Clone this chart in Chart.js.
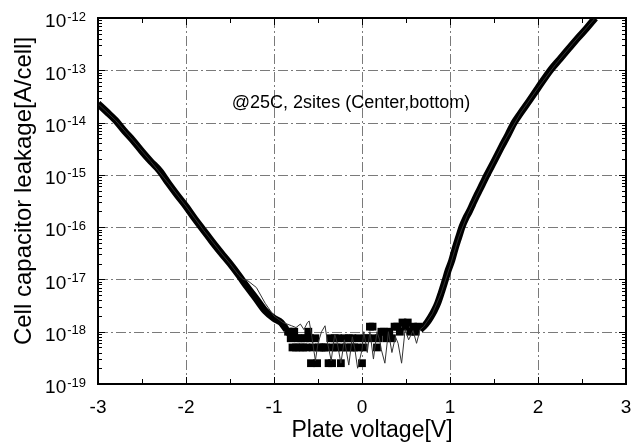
<!DOCTYPE html>
<html>
<head>
<meta charset="utf-8">
<script src="https://cdn.jsdelivr.net/npm/chart.js@4/dist/chart.umd.min.js"></script>
<style>
  html, body { margin: 0; background: #fff; }
</style>
</head>
<body>
<canvas id="leakChart" width="640" height="443"></canvas>
<script>
// site 1 (thick squares) - left branch, noisy floor, right branch
const leftV = [-3.0, -2.9, -2.8, -2.7, -2.6, -2.5, -2.4, -2.3, -2.2, -2.1, -2.0, -1.9, -1.8, -1.7, -1.6, -1.5, -1.4, -1.3, -1.2, -1.1, -1.0, -0.92, -0.86];
const leftI = [2.3e-14, 1.6e-14, 1.1e-14, 6.9e-15, 4.5e-15, 2.8e-15, 1.8e-15, 1.2e-15, 6.9e-16, 4.1e-16, 2.5e-16, 1.45e-16, 8.7e-17, 5.2e-17, 3.2e-17, 2.0e-17, 1.2e-17, 7.0e-18, 4.2e-18, 2.5e-18, 1.8e-18, 1.5e-18, 1.1e-18];

const midV = [-0.84, -0.82, -0.81, -0.79, -0.77, -0.75, -0.73, -0.71, -0.69, -0.67, -0.65, -0.63, -0.61, -0.59, -0.58, -0.56, -0.53, -0.51, -0.49, -0.46, -0.43, -0.41, -0.38, -0.36, -0.34, -0.33, -0.31, -0.29, -0.27, -0.24, -0.23, -0.20, -0.18, -0.15, -0.13, -0.11, -0.09, -0.06, -0.04, 0.00, 0.02, 0.04, 0.07, 0.09, 0.12, 0.15, 0.17, 0.19, 0.22, 0.25, 0.28, 0.31, 0.34, 0.37, 0.40, 0.43, 0.46, 0.49, 0.52, 0.55, 0.58, 0.61, 0.64];
const midI = [1.0e-18, 1.0e-18, 7.5e-19, 5e-19, 1.0e-18, 5e-19, 7.5e-19, 5e-19, 7.5e-19, 5e-19, 7.5e-19, 5e-19, 1.0e-18, 7.5e-19, 2.5e-19, 5e-19, 7.5e-19, 2.5e-19, 5e-19, 5e-19, 5e-19, 5e-19, 2.5e-19, 7.5e-19, 2.5e-19, 5e-19, 7.5e-19, 5e-19, 7.5e-19, 2.5e-19, 5e-19, 7.5e-19, 5e-19, 7.5e-19, 5e-19, 7.5e-19, 5e-19, 5e-19, 7.5e-19, 2.5e-19, 5e-19, 7.5e-19, 7.5e-19, 1.25e-18, 1.25e-18, 7.5e-19, 5e-19, 7.5e-19, 1.0e-18, 1.0e-18, 7.5e-19, 1.0e-18, 7.5e-19, 1.25e-18, 1.25e-18, 1.0e-18, 1.5e-18, 1.25e-18, 1.5e-18, 1.0e-18, 1.25e-18, 1.0e-18, 1.25e-18];

const rightV = [0.66, 0.70, 0.74, 0.78, 0.82, 0.86, 0.90, 0.94, 0.98, 1.02, 1.06, 1.10, 1.14, 1.18, 1.22, 1.26, 1.30, 1.34, 1.38, 1.42, 1.50, 1.58, 1.66, 1.73, 1.80, 1.90, 2.00, 2.14, 2.25, 2.35, 2.45, 2.55, 2.65];
const rightI = [1.1e-18, 1.25e-18, 1.5e-18, 1.9e-18, 2.5e-18, 3.5e-18, 5.5e-18, 9e-18, 1.5e-17, 2.3e-17, 4e-17, 6.5e-17, 1.05e-16, 1.5e-16, 2e-16, 2.8e-16, 3.9e-16, 5.3e-16, 7.3e-16, 1e-15, 1.8e-15, 3.3e-15, 5.9e-15, 1e-14, 1.5e-14, 2.6e-14, 4.6e-14, 1e-13, 1.65e-13, 2.6e-13, 4.1e-13, 6.3e-13, 1e-12];

// site 2 (thin line)
const thinV = [-3.0, -2.8, -2.6, -2.4, -2.2, -2.0, -1.8, -1.6, -1.5, -1.4, -1.35, -1.3, -1.2, -1.1, -1.0, -0.9, -0.8, -0.75, -0.7, -0.66, -0.62, -0.6, -0.57, -0.53, -0.5, -0.46, -0.42, -0.39, -0.35, -0.31, -0.28, -0.24, -0.2, -0.15, -0.11, -0.08, -0.05, 0.0, 0.02, 0.06, 0.09, 0.13, 0.17, 0.2, 0.22, 0.26, 0.3, 0.34, 0.38, 0.41, 0.45, 0.49, 0.53, 0.58, 0.62, 0.66, 0.7, 0.8, 0.9, 1.0, 1.1, 1.2, 1.4, 1.6, 1.8, 2.0, 2.2, 2.4, 2.65];
const thinI = [2.3e-14, 1.1e-14, 4.5e-15, 1.8e-15, 6.9e-16, 2.5e-16, 8.7e-17, 3.2e-17, 2.0e-17, 1.2e-17, 1.0e-17, 9.5e-18, 7e-18, 3.5e-18, 2e-18, 1.5e-18, 1.3e-18, 1.2e-18, 1.4e-18, 1.1e-18, 1.5e-18, 1.6e-18, 8e-19, 2.8e-19, 6e-19, 1e-18, 1.3e-18, 6e-19, 2.8e-19, 9e-19, 6e-19, 2.5e-19, 7e-19, 2.3e-19, 8e-19, 4.5e-19, 2e-19, 4.5e-19, 1e-18, 4e-19, 1e-18, 3e-19, 1e-18, 7e-19, 4.5e-19, 2.5e-19, 1e-18, 4e-19, 8e-19, 6e-19, 2.5e-19, 1.1e-18, 7e-19, 1.05e-18, 6e-19, 1.1e-18, 1.25e-18, 2.2e-18, 5.5e-18, 1.8e-17, 6.5e-17, 1.75e-16, 8.5e-16, 3.9e-15, 1.5e-14, 4.6e-14, 1.3e-13, 3.3e-13, 1e-12];

const xTicks = [-3, -2, -1, 0, 1, 2, 3];
const yExps = [-19, -18, -17, -16, -15, -14, -13, -12];
const note = { text: '@25C, 2sites (Center,bottom)', v: -0.125, i: 2.4e-14 };

const FONT = '"Liberation Sans", Arial, sans-serif';

function pts(xs, ys) {
  return xs.map((v, k) => ({ x: v, y: ys[k] }));
}

const decorations = {
  id: 'decorations',
  beforeDatasetsDraw(chart) {
    const { ctx, chartArea: a, scales: { x, y } } = chart;
    ctx.save();
    // dashed grid at decades and whole volts
    ctx.strokeStyle = '#7a7a7a';
    ctx.lineWidth = 1;
    ctx.setLineDash([10, 3, 2, 3]);
    yExps.forEach(e => {
      const py = Math.round(y.getPixelForValue(Math.pow(10, e))) + 0.5;
      if (py < a.top + 2 || py > a.bottom - 2) return;
      ctx.beginPath(); ctx.moveTo(a.left, py); ctx.lineTo(a.right, py); ctx.stroke();
    });
    xTicks.forEach(v => {
      const px = Math.round(x.getPixelForValue(v)) + 0.5;
      if (px < a.left + 2 || px > a.right - 2) return;
      ctx.beginPath(); ctx.moveTo(px, a.top); ctx.lineTo(px, a.bottom); ctx.stroke();
    });
    ctx.setLineDash([]);

    // inward tick marks
    ctx.strokeStyle = '#000';
    for (let e = -19; e < -12; e++) {
      for (let m = 1; m <= 9; m++) {
        const py = Math.round(y.getPixelForValue(m * Math.pow(10, e))) + 0.5;
        const len = m === 1 ? 7 : 4;
        ctx.beginPath();
        ctx.moveTo(a.left, py); ctx.lineTo(a.left + len, py);
        ctx.moveTo(a.right, py); ctx.lineTo(a.right - len, py);
        ctx.stroke();
      }
    }
    for (let v = -3; v <= 3; v += 0.5) {
      const px = Math.round(x.getPixelForValue(v)) + 0.5;
      const len = Number.isInteger(v) ? 7 : 5;
      ctx.beginPath();
      ctx.moveTo(px, a.bottom); ctx.lineTo(px, a.bottom - len);
      ctx.moveTo(px, a.top); ctx.lineTo(px, a.top + len);
      ctx.stroke();
    }
    ctx.restore();
  },
  afterDraw(chart) {
    const { ctx, chartArea: a, scales: { x, y } } = chart;
    ctx.save();
    ctx.strokeStyle = '#000';
    ctx.lineWidth = 2;
    ctx.strokeRect(a.left, a.top, a.right - a.left, a.bottom - a.top);

    // y tick labels 10^n
    ctx.fillStyle = '#000';
    ctx.textBaseline = 'middle';
    yExps.forEach(e => {
      const py = y.getPixelForValue(Math.pow(10, e));
      ctx.font = '13px ' + FONT;
      ctx.textAlign = 'left';
      const expW = ctx.measureText(String(e)).width;
      const expX = a.left - 12 - expW;
      ctx.fillText(String(e), expX, py - 1);
      ctx.font = '19px ' + FONT;
      ctx.textAlign = 'right';
      ctx.fillText('10', expX - 1, py + 4);
    });

    // annotation
    ctx.font = '18px ' + FONT;
    ctx.textAlign = 'center';
    ctx.fillText(note.text, x.getPixelForValue(note.v), y.getPixelForValue(note.i));

    // axis titles
    ctx.font = '23px ' + FONT;
    ctx.fillText('Plate voltage[V]', 372, 431);
    ctx.translate(24, 191);
    ctx.rotate(-Math.PI / 2);
    ctx.font = '24px ' + FONT;
    ctx.fillText('Cell capacitor leakage[A/cell]', 0, 0);
    ctx.restore();
  }
};

Chart.defaults.color = '#000';
Chart.defaults.font.family = FONT;

const ctx = document.getElementById('leakChart').getContext('2d');
const chart = new Chart(ctx, {
  type: 'line',
  data: {
    datasets: [
      {
        label: 'site 2',
        data: pts(thinV, thinI),
        borderColor: '#333',
        borderWidth: 1,
        pointRadius: 0,
        order: 0
      },
      {
        label: 'site 1 left',
        data: pts(leftV, leftI),
        borderColor: '#000',
        borderWidth: 7,
        pointRadius: 0,
        tension: 0.4,
        cubicInterpolationMode: 'monotone',
        order: 1
      },
      {
        label: 'site 1 floor',
        data: pts(midV, midI),
        showLine: false,
        borderColor: '#000',
        backgroundColor: '#000',
        pointBorderWidth: 0,
        pointStyle: 'rect',
        pointRadius: 5.5,
        order: 1
      },
      {
        label: 'site 1 right',
        data: pts(rightV, rightI),
        borderColor: '#000',
        borderWidth: 7,
        pointRadius: 0,
        tension: 0.4,
        cubicInterpolationMode: 'monotone',
        order: 1
      }
    ]
  },
  options: {
    responsive: false,
    animation: false,
    clip: 0,
    layout: { padding: { left: 98, top: 18, right: 14, bottom: 0 } },
    plugins: { legend: { display: false }, tooltip: { enabled: false } },
    scales: {
      x: {
        type: 'linear',
        min: -3,
        max: 3,
        grid: { display: false },
        border: { display: false },
        ticks: {
          stepSize: 1,
          padding: 4,
          font: { size: 19 },
          color: '#000',
          callback: v => String(v)
        },
        afterFit: s => { s.height = 59; }
      },
      y: {
        type: 'logarithmic',
        min: 1e-19,
        max: 1e-12,
        display: false
      }
    }
  },
  plugins: [decorations]
});
</script>
</body>
</html>
